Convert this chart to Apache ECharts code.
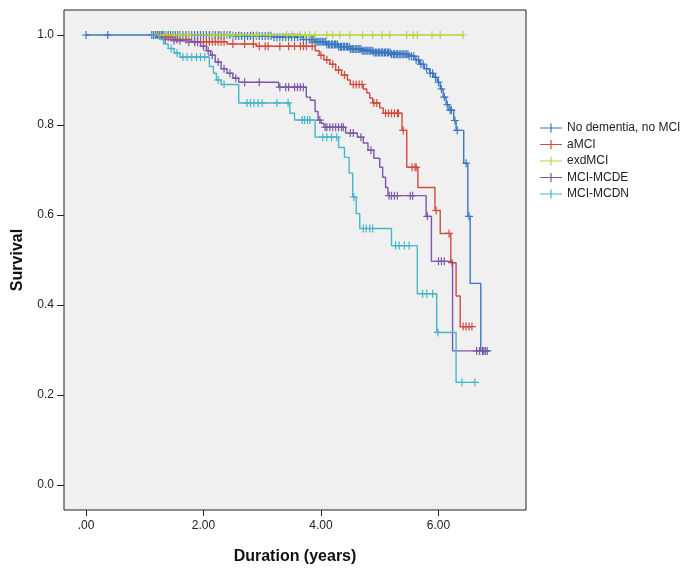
<!DOCTYPE html>
<html>
<head>
<meta charset="utf-8">
<script src="https://cdn.jsdelivr.net/npm/echarts@6/dist/echarts.min.js"></script>
<style>html,body{margin:0;padding:0;background:#fff}#c{width:687px;height:571px}</style>
</head>
<body>
<div id="c"></div>
<script>
// ---------------- data ----------------
const seriesNames = ['No dementia, no MCI', 'aMCI', 'exdMCI', 'MCI-MCDE', 'MCI-MCDN'];
const seriesColors = ['#3b77c0', '#d24b3f', '#b9d445', '#7d57a8', '#46b6c9'];

const xTickValues = [0, 2, 4, 6];
const xTickLabels = ['.00', '2.00', '4.00', '6.00'];
const yTickValues = [0, 0.2, 0.4, 0.6, 0.8, 1.0];
const yTickLabels = ['0.0', '0.2', '0.4', '0.6', '0.8', '1.0'];

// step functions: event times and survival after the event
const noDemTimes = [0, 2.5, 3.2, 3.7, 3.9, 4.1, 4.3, 4.5, 4.7, 4.9, 5.2, 5.5, 5.6, 5.68, 5.76, 5.85, 5.92, 5.98, 6.03, 6.08, 6.13, 6.18, 6.26, 6.3, 6.43, 6.5, 6.54, 6.72];
const noDemSurv  = [1.0, 0.998, 0.995, 0.99, 0.985, 0.979, 0.974, 0.969, 0.965, 0.961, 0.957, 0.953, 0.945, 0.935, 0.925, 0.915, 0.906, 0.895, 0.88, 0.862, 0.845, 0.833, 0.81, 0.788, 0.715, 0.597, 0.448, 0.298];
const noDemCensor = [0, 0.37, 1.12, 1.15, 1.18, 1.2, 1.22, 1.25, 1.28, 1.3, 1.33, 1.36, 1.4, 1.44, 1.48, 1.52, 1.56, 1.6, 1.65, 1.7, 1.75, 1.8, 1.85, 1.9, 1.95, 2.0, 2.05, 2.1, 2.15, 2.2, 2.25, 2.3, 2.35, 2.4, 2.45, 2.5, 2.55, 2.6, 2.65, 2.7, 2.75, 2.8, 2.85, 2.9, 2.95, 3.0, 3.05, 3.1, 3.15, 3.2, 3.25, 3.3, 3.35, 3.4, 3.45, 3.5, 3.55, 3.6, 3.65, 3.7, 3.75, 3.8, 3.83, 3.85, 3.88, 3.9, 3.93, 3.95, 3.98, 4.0, 4.03, 4.05, 4.08, 4.1, 4.13, 4.15, 4.18, 4.2, 4.23, 4.25, 4.28, 4.3, 4.33, 4.35, 4.38, 4.4, 4.43, 4.45, 4.48, 4.5, 4.53, 4.55, 4.58, 4.6, 4.63, 4.65, 4.68, 4.7, 4.73, 4.75, 4.78, 4.8, 4.83, 4.85, 4.88, 4.9, 4.93, 4.95, 4.98, 5.0, 5.03, 5.05, 5.08, 5.1, 5.13, 5.15, 5.18, 5.2, 5.23, 5.25, 5.28, 5.3, 5.33, 5.35, 5.38, 5.4, 5.43, 5.45, 5.48, 5.5, 5.54, 5.58, 5.62, 5.66, 5.7, 5.74, 5.8, 5.86, 5.9, 5.95, 6.0, 6.05, 6.1, 6.15, 6.2, 6.22, 6.28, 6.32, 6.47, 6.52, 6.77, 6.8, 6.83];

const aMciTimes = [1.1, 1.3, 1.5, 1.8, 2.4, 2.9, 3.9, 3.97, 4.05, 4.15, 4.25, 4.35, 4.45, 4.5, 4.72, 4.78, 4.83, 4.88, 5.0, 5.06, 5.38, 5.46, 5.65, 5.94, 6.03, 6.21, 6.3, 6.37];
const aMciSurv  = [1.0, 0.995, 0.99, 0.985, 0.98, 0.975, 0.965, 0.955, 0.945, 0.935, 0.922, 0.911, 0.9, 0.89, 0.88, 0.871, 0.86, 0.849, 0.838, 0.826, 0.788, 0.706, 0.661, 0.61, 0.559, 0.494, 0.42, 0.352];
const aMciCensor = [1.25, 1.4, 1.55, 1.7, 1.85, 1.95, 2.0, 2.05, 2.1, 2.15, 2.2, 2.25, 2.3, 2.35, 2.5, 2.7, 2.85, 2.95, 3.05, 3.1, 3.3, 3.45, 3.55, 3.65, 3.7, 3.75, 3.85, 4.0, 4.1, 4.2, 4.3, 4.4, 4.55, 4.6, 4.65, 4.7, 4.9, 4.95, 5.1, 5.15, 5.2, 5.25, 5.3, 5.32, 5.4, 5.55, 5.6, 5.62, 5.96, 6.18, 6.23, 6.42, 6.47, 6.52, 6.57];

const exdTimes = [1.1];
const exdSurv  = [1.0];
const exdCensor = [1.2, 1.35, 1.5, 1.6, 1.74, 2.16, 2.28, 2.40, 2.50, 2.62, 2.83, 2.91, 3.13, 3.42, 3.52, 3.64, 3.73, 3.81, 3.90, 4.10, 4.2, 4.32, 4.49, 4.71, 4.88, 5.04, 5.17, 5.46, 5.57, 5.64, 5.89, 6.03, 6.42];

const mcdeTimes = [1.1, 1.2, 1.3, 1.45, 1.7, 1.95, 2.05, 2.12, 2.2, 2.3, 2.4, 2.5, 2.6, 3.28, 3.75, 3.82, 3.9, 3.95, 4.0, 4.05, 4.42, 4.62, 4.72, 4.8, 4.9, 5.0, 5.05, 5.1, 5.14, 5.79, 5.88, 6.24];
const mcdeSurv  = [1.0, 0.995, 0.99, 0.987, 0.984, 0.975, 0.965, 0.955, 0.94, 0.925, 0.915, 0.904, 0.895, 0.884, 0.862, 0.855, 0.83, 0.811, 0.804, 0.795, 0.782, 0.773, 0.76, 0.744, 0.726, 0.706, 0.684, 0.661, 0.643, 0.597, 0.497, 0.298];
const mcdeCensor = [1.35, 1.5, 1.6, 1.75, 1.85, 1.9, 2.0, 2.08, 2.15, 2.25, 2.35, 2.45, 2.55, 2.7, 2.95, 3.3, 3.4, 3.45, 3.55, 3.6, 3.65, 3.7, 3.98, 4.07, 4.1, 4.15, 4.2, 4.25, 4.3, 4.35, 4.38, 4.5, 4.55, 4.68, 4.85, 5.16, 5.2, 5.25, 5.3, 5.52, 5.56, 5.81, 6.0, 6.05, 6.1, 6.65, 6.7, 6.75, 6.8];

const mcdnTimes = [1.1, 1.25, 1.32, 1.4, 1.5, 1.6, 2.1, 2.17, 2.22, 2.3, 2.6, 3.47, 3.55, 3.9, 4.3, 4.4, 4.48, 4.54, 4.6, 4.66, 5.2, 5.64, 5.97, 6.3];
const mcdnSurv  = [1.0, 0.99, 0.98, 0.97, 0.96, 0.951, 0.93, 0.915, 0.9, 0.89, 0.849, 0.826, 0.811, 0.773, 0.75, 0.728, 0.693, 0.64, 0.603, 0.57, 0.532, 0.425, 0.339, 0.228];
const mcdnCensor = [1.45, 1.55, 1.65, 1.72, 1.8, 1.88, 1.95, 2.02, 2.25, 2.35, 2.74, 2.8, 2.86, 2.93, 3.0, 3.25, 3.44, 3.68, 3.72, 3.77, 3.81, 4.03, 4.1, 4.18, 4.27, 4.56, 4.72, 4.77, 4.83, 4.88, 5.27, 5.33, 5.42, 5.5, 5.73, 5.8, 5.9, 5.99, 6.4, 6.62];

const groups = [
  [noDemTimes, noDemSurv, noDemCensor],
  [aMciTimes, aMciSurv, aMciCensor],
  [exdTimes, exdSurv, exdCensor],
  [mcdeTimes, mcdeSurv, mcdeCensor],
  [mcdnTimes, mcdnSurv, mcdnCensor]
];

// ---------------- build ----------------
function survAt(times, surv, t) {
  let s = surv[0];
  for (let i = 0; i < times.length; i++) { if (times[i] <= t + 1e-9) s = surv[i]; }
  return s;
}
const plusSym = 'path://M0,3.4h8v1.2h-8z M3.4,0h1.2v8h-1.2z';
const legendIcon = 'path://M0,3.9h22v1.2h-22z M10.4,0h1.2v9h-1.2z';

const series = [];
groups.forEach(function (g, i) {
  const times = g[0], surv = g[1], cens = g[2];
  const lastT = Math.max(times[times.length - 1], cens.length ? cens[cens.length - 1] : 0);
  const lineData = times.map(function (t, k) { return [t, surv[k]]; });
  lineData.push([lastT, surv[surv.length - 1]]);
  series.push({
    name: seriesNames[i], type: 'line', step: 'end', data: lineData,
    showSymbol: false, symbol: 'none', silent: true,
    lineStyle: { color: seriesColors[i], width: 1.4 }, itemStyle: { color: seriesColors[i] },
    z: 2 + i
  });
  series.push({
    name: seriesNames[i], type: 'scatter', symbol: plusSym, symbolSize: 8, silent: true,
    data: cens.map(function (t) { return [t, survAt(times, surv, t)]; }),
    itemStyle: { color: seriesColors[i], opacity: 1 }, z: 2 + i
  });
});

const chart = echarts.init(document.getElementById('c'), null, { renderer: 'canvas' });
chart.setOption({
  animation: false,
  backgroundColor: '#ffffff',
  textStyle: { fontFamily: 'Liberation Sans, Arial, sans-serif' },
  grid: { left: 64, right: 161, top: 10, bottom: 61, show: true, backgroundColor: '#f0f0f0', borderColor: '#222', borderWidth: 1 },
  legend: {
    orient: 'vertical', left: 535, top: 117, itemWidth: 22, itemHeight: 9, itemGap: 4.5,
    selectedMode: false,
    data: seriesNames.map(function (n) { return { name: n, icon: legendIcon }; }),
    textStyle: { fontSize: 12, color: '#222', fontFamily: 'Liberation Sans, Arial, sans-serif' }
  },
  xAxis: {
    type: 'value', min: -0.3745, max: 7.49,
    name: 'Duration (years)', nameLocation: 'middle', nameGap: 39,
    nameTextStyle: { fontSize: 16, fontWeight: 'bold', color: '#111', fontFamily: 'Liberation Sans, Arial, sans-serif' },
    axisLine: { show: false, onZero: false },
    axisTick: { show: true, length: 6, customValues: xTickValues, lineStyle: { color: '#222', width: 1 } },
    axisLabel: { customValues: xTickValues, margin: 10, fontSize: 12, color: '#222',
      formatter: function (v) { const k = xTickValues.indexOf(v); return k >= 0 ? xTickLabels[k] : ''; } },
    splitLine: { show: false }
  },
  yAxis: {
    type: 'value', min: -0.0556, max: 1.0556,
    name: 'Survival', nameLocation: 'middle', nameGap: 38, nameRotate: 90,
    nameTextStyle: { fontSize: 16, fontWeight: 'bold', color: '#111', fontFamily: 'Liberation Sans, Arial, sans-serif' },
    axisLine: { show: false, onZero: false },
    axisTick: { show: true, length: 7, customValues: yTickValues, lineStyle: { color: '#222', width: 1 } },
    axisLabel: { customValues: yTickValues, margin: 10, fontSize: 12, color: '#222',
      formatter: function (v) { let k = -1; yTickValues.forEach(function (y, j) { if (Math.abs(y - v) < 1e-6) k = j; }); return k >= 0 ? yTickLabels[k] : ''; } },
    splitLine: { show: false }
  },
  series: series
});
</script>
</body>
</html>
